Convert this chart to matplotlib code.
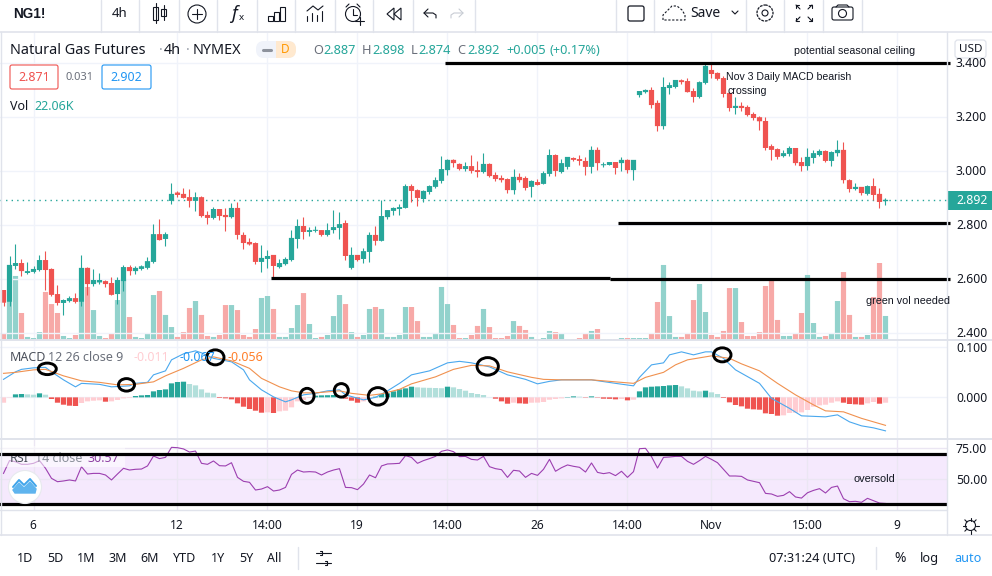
import numpy as np
import matplotlib
matplotlib.use('Agg')
import matplotlib.pyplot as plt
from matplotlib.patches import Ellipse, Rectangle, FancyBboxPatch, Circle, Polygon

W, H = 992, 576
UP, DOWN = '#26a69a', '#ef5350'
UI_TEXT = '#131722'
GRID = '#f0f3fa'
BORDER = '#e0e3eb'
BAR_W = 5.2 / 6
plt.rcParams['font.family'] = ['Noto Sans', 'DejaVu Sans']

# candles, one per 4h bar
open_ = [2.558,2.514,2.647,2.658,2.621,2.625,2.632,2.669,2.636,2.543,
         2.510,2.517,2.528,2.514,2.640,2.580,2.586,2.591,2.584,2.543,
         2.591,2.643,2.628,2.636,2.640,2.662,2.765,2.747,2.888,2.919,
         2.914,2.902,2.888,2.902,2.836,2.825,2.858,2.836,2.828,2.862,
         2.762,2.736,2.732,2.662,2.673,2.688,2.643,2.654,2.669,2.747,
         2.795,2.773,2.777,2.780,2.762,2.780,2.788,2.806,2.640,2.688,
         2.673,2.699,2.762,2.740,2.828,2.851,2.858,2.862,2.943,2.928,
         2.895,2.921,2.940,2.962,3.002,3.040,3.025,3.006,3.017,3.002,
         2.995,3.025,2.984,2.973,2.969,2.928,2.977,2.973,2.940,2.958,
         2.951,2.988,3.058,2.995,3.014,3.047,3.043,3.036,3.014,3.077,
         3.020,3.021,3.032,3.028,3.040,3.002,3.280,3.291,3.299,3.251,
         3.165,3.306,3.310,3.335,3.332,3.295,3.273,3.325,3.373,3.362,
         3.343,3.288,3.232,3.240,3.236,3.210,3.198,3.184,3.091,3.080,
         3.054,3.062,3.084,3.032,3.017,3.047,3.058,3.073,3.036,3.065,
         3.077,2.965,2.932,2.940,2.914,2.943,2.914,2.887]
high = [2.558,2.684,2.728,2.672,2.662,2.647,2.688,2.702,2.640,2.577,
        2.525,2.536,2.547,2.688,2.644,2.636,2.620,2.595,2.606,2.606,
        2.651,2.651,2.647,2.651,2.681,2.802,2.821,2.773,2.954,2.925,
        2.936,2.932,2.921,2.906,2.851,2.865,2.858,2.862,2.880,2.884,
        2.773,2.751,2.736,2.725,2.706,2.688,2.673,2.680,2.780,2.821,
        2.828,2.791,2.795,2.780,2.806,2.854,2.847,2.817,2.717,2.688,
        2.714,2.773,2.795,2.891,2.854,2.865,2.877,2.951,2.951,2.932,
        2.928,2.947,2.977,3.054,3.043,3.043,3.028,3.032,3.058,3.036,
        3.065,3.028,2.995,2.984,2.973,3.006,2.991,2.980,2.965,2.969,
        2.999,3.080,3.062,3.043,3.051,3.051,3.058,3.051,3.091,3.088,
        3.032,3.032,3.032,3.051,3.043,3.040,3.295,3.302,3.310,3.262,
        3.347,3.328,3.336,3.340,3.343,3.306,3.332,3.395,3.395,3.365,
        3.351,3.291,3.273,3.254,3.243,3.217,3.202,3.199,3.099,3.084,
        3.077,3.091,3.084,3.051,3.084,3.077,3.080,3.077,3.073,3.114,
        3.106,2.969,2.954,2.940,2.947,2.973,2.936,2.898]
low = [2.499,2.499,2.636,2.610,2.619,2.621,2.628,2.558,2.536,2.502,
       2.465,2.514,2.511,2.499,2.540,2.573,2.580,2.569,2.538,2.506,
       2.554,2.614,2.617,2.632,2.636,2.658,2.743,2.721,2.877,2.902,
       2.899,2.865,2.851,2.828,2.802,2.821,2.817,2.777,2.825,2.747,
       2.710,2.725,2.654,2.625,2.640,2.606,2.640,2.651,2.665,2.714,
       2.747,2.758,2.773,2.758,2.758,2.769,2.747,2.669,2.636,2.665,
       2.658,2.662,2.725,2.740,2.821,2.836,2.836,2.862,2.884,2.869,
       2.884,2.914,2.936,2.954,2.984,3.014,3.002,2.999,2.991,2.977,
       2.991,2.977,2.962,2.958,2.917,2.914,2.958,2.928,2.902,2.947,
       2.951,2.980,2.980,2.991,3.006,3.036,3.021,2.984,2.991,3.002,
       3.014,3.021,2.988,2.999,2.991,2.965,3.273,3.288,3.232,3.147,
       3.154,3.284,3.306,3.321,3.291,3.254,3.269,3.321,3.343,3.336,
       3.273,3.221,3.210,3.221,3.202,3.188,3.151,3.077,3.040,3.043,
       3.051,3.054,3.021,2.999,3.002,3.028,3.054,3.032,3.017,3.054,
       2.954,2.921,2.928,2.910,2.910,2.891,2.862,2.874]
close = [2.511,2.651,2.658,2.628,2.628,2.636,2.669,2.632,2.540,2.510,
         2.521,2.528,2.514,2.640,2.580,2.595,2.595,2.580,2.540,2.595,
         2.643,2.628,2.640,2.646,2.665,2.765,2.743,2.765,2.914,2.910,
         2.899,2.888,2.902,2.832,2.825,2.858,2.832,2.828,2.862,2.762,
         2.732,2.727,2.662,2.677,2.684,2.647,2.658,2.673,2.751,2.795,
         2.773,2.780,2.780,2.762,2.780,2.791,2.802,2.684,2.688,2.669,
         2.702,2.762,2.740,2.832,2.854,2.862,2.865,2.943,2.925,2.899,
         2.925,2.943,2.965,3.006,3.040,3.028,3.006,3.017,2.999,2.995,
         3.025,2.980,2.969,2.965,2.928,2.977,2.965,2.936,2.962,2.947,
         2.991,3.058,2.999,3.028,3.051,3.040,3.036,3.014,3.077,3.028,
         3.022,3.032,3.010,3.040,3.002,3.040,3.295,3.299,3.243,3.165,
         3.310,3.317,3.336,3.328,3.291,3.273,3.328,3.388,3.358,3.340,
         3.284,3.232,3.240,3.232,3.206,3.195,3.183,3.084,3.077,3.051,
         3.065,3.084,3.028,3.017,3.051,3.065,3.073,3.036,3.069,3.077,
         2.965,2.932,2.940,2.917,2.943,2.910,2.884,2.892]
# volume in thousands
volume = [5.5,34.9,58.8,24.8,2.8,1.8,7.3,44.1,33,24.8,
          3.7,1.8,4.6,34.9,48.7,27.5,3.7,1.8,5.5,36.7,
          55.1,21.1,2.8,1.8,5.5,41.3,45,23,11.9,2.8,
          7.3,29.4,35.8,23,3.7,2.8,4.6,32.1,32.1,27.5,
          4.6,2.8,10.1,38.6,40.4,28.5,2.8,2.8,11,32.1,
          43.1,14.7,1.8,2.8,4.6,22,41.3,33,7.3,2.8,
          4.6,28.5,30.3,28.5,2.8,2.8,4.6,30.3,30.3,17.4,
          2.8,2.8,5.5,48.7,33,13.8,1.8,1.8,4.6,12.9,
          28.5,11.9,1.8,1.8,3.7,17.4,12.9,9.2,2.8,0.9,
          1.8,8.3,7.3,6.4,0.9,0.9,1.8,5.5,8.3,10.1,
          0.9,0.9,0.9,1.8,1.8,1.8,1.8,1.8,6.4,34.9,
          68.9,22,2.8,2.8,6.4,36.7,51.4,25.7,4.6,2.8,
          8.3,47.7,47.7,16.5,3.7,3.7,7.3,49.6,55.1,18.4,
          3.7,3.7,6.4,24.8,59.7,15.6,2.8,3.7,5.5,35.8,
          62.4,23,2.8,2.8,4.6,39.5,70.7,22.06]
macd_hist = [-.0107,-.0007,.006,.0067,.006,.0053,.008,.0053,-.0033,-.0107,
             -.0147,-.0167,-.0173,-.0113,-.008,-.0067,-.006,-.0087,-.008,-.0053,
             -.002,-.0013,.0027,.004,.0047,.012,.0147,.016,.028,.0307,
             .0313,.0267,.024,.016,.0093,.008,-.0013,-.002,-.004,-.012,
             -.0187,-.0233,-.0267,-.0307,-.03,-.0313,-.028,-.0267,-.02,-.008,
             -.0053,-.0013,.0033,.004,.0043,.0047,.0033,-.0027,-.0067,-.0107,
             -.008,-.002,.0013,.0067,.008,.012,.016,.018,.0213,.02,
             .0193,.019,.0187,.0183,.0213,.02,.0167,.0133,.0087,.0067,
             .0047,.0003,-.0027,-.008,-.0127,-.0107,-.012,-.0127,-.0107,-.0105,
             -.0093,-.0047,-.0033,-.002,.0007,.002,.0013,-.0007,.002,-.0007,
             -.0027,-.003,-.004,-.0033,-.006,-.0047,.012,.02,.0213,.022,
             .0227,.024,.0247,.022,.018,.0133,.012,.0133,.01,.0067,
             -.0013,-.01,-.0153,-.018,-.0227,-.024,-.0247,-.032,-.0333,-.0367,
             -.036,-.0313,-.0307,-.03,-.0253,-.0187,-.016,-.0147,-.0107,-.008,
             -.0107,-.0133,-.014,-.0147,-.012,-.0093,-.0127,-.0107]
macd_bars = [0,2,3,5,7,8,10,12,13,16,18,21,22,24,25,27,28,30,32,33,35,38,40,41,43,45,47,48,50,52,54,
             56,57,60,62,64,66,68,71,74,76,78,81,84,87,89,91,93,98,102,105,106,108,110,
             111,113,115,117,118,120,122,126,128,131,133,137,139,141,143,145,147]
macd_line = [.036,.051,.056,.059,.060,.051,.035,.021,.028,.026,.021,.023,.028,.030,.045,.053,.075,.087,.093,.089,.078,.071,.055,.035,.015,.001,-.009,-.005,.005,.008,.013,
             .015,.005,-.005,0,.013,.028,.045,.053,.069,.072,.069,.061,.045,.036,.027,.032,.035,.035,.028,.023,.040,.065,.069,
             .085,.091,.085,.091,.091,.078,.055,.028,-.002,-.022,-.037,-.039,-.035,-.049,-.057,-.061,-.067]
signal_bars = [0,2,5,7,10,13,16,19,22,25,27,30,33,35,38,41,43,46,48,50,52,
               54,56,58,61,63,66,68,72,75,78,81,84,88,90,93,98,102,105,107,110,
               112,114,116,118,121,123,126,129,132,135,137,140,143,147]
signal_line = [.048,.050,.055,.056,.043,.033,.030,.025,.026,.031,.043,.058,.075,.081,.073,.058,.038,.021,.013,.009,.009,
               .011,.013,.008,.004,.007,.016,.027,.041,.056,.064,.063,.051,.040,.036,.035,.035,.031,.028,.040,.050,
               .065,.075,.079,.083,.078,.067,.053,.028,.005,-.015,-.027,-.029,-.042,-.056]
rsi = [54.8,65.1,64.2,62.1,62.1,62.9,65.1,58.9,50.8,48.1,48.7,49.5,48.7,60.2,54.3,54.8,54.8,53.5,49.5,54.3,
       58.9,57.5,58.1,58.3,60.8,68.8,66.7,67.7,75.8,75.5,74.5,72,72.8,62.9,62.1,64.8,61,60.8,63.4,51.6,
       48.4,47.6,41.4,42.2,44.1,40.6,41.4,43.5,54,57.5,55.9,56.2,55.9,53.5,55.9,
       57.5,58.6,43.5,43.3,41.7,46.2,53.5,51.3,60.8,62.4,62.6,62.9,69.1,67.7,62.9,65.1,66.7,68.5,72.6,73.7,
       72.3,68.3,68.5,66.1,65.6,68.5,60.2,58.6,57.8,51.6,57.3,56.7,51.6,54.8,53.2,58.1,66.1,56.5,59.4,61.6,
       60.5,59.7,55.9,63.2,55.6,54.6,55.4,53,56.5,51.6,56.2,74.7,75,68.3,59.1,
       67.7,68,68.5,68.5,64.5,62.1,65.1,68.5,66.1,63.4,58.1,52.7,52.7,52.4,49.5,48.4,47.3,38.7,38.2,36.3,
       37.1,40.1,35.8,34.9,39.2,41.1,42.5,39,43.5,44.6,34.4,32,32.3,31.5,34.7,32.8,30.9,30.57]

# hand drawn things on the chart: start bar, end bar, level
price_levels = [(73.6, 157.75, 3.399), (102.4, 157.75, 2.805), (44.6, 101.1, 2.601), (101.1, 157.75, 2.598)]
rsi_levels = [70.2, 29.8]
# bar, value, width in bars, height in macd units
macd_circles = [(7.3, .057, 3.0, .023), (20.5, .025, 2.67, .025), (35.3, .080, 2.9, .03),
                (50.6, .003, 2.33, .03), (56.3, .014, 2.33, .027), (62.4, .002, 3.2, .035),
                (80.7, .062, 3.55, .035), (119.8, .085, 2.9, .028)]

price_ticks = [3.4, 3.2, 3.0, 2.8, 2.6, 2.4]
macd_ticks = [0.1, 0.0]
rsi_ticks = [75, 50]
time_bars = [5, 29, 44, 59, 74, 89, 104, 118, 134, 149]
time_labels = ['6', '12', '14:00', '19', '14:00', '26', '14:00', 'Nov', '15:00', '9']
range_labels = ['1D', '5D', '1M', '3M', '6M', 'YTD', '1Y', '5Y', 'All']
range_x = [25, 55, 86, 118, 150, 185, 218, 246, 274]


def pane(y0, y1):
    ax = fig.add_axes([0, 1 - y1 / H, 947 / W, (y1 - y0) / H])
    ax.set_xlim(-3.5 / 6, 943.5 / 6)
    ax.set_xticks([])
    ax.set_yticks([])
    for s in ax.spines.values():
        s.set_visible(False)
    ax.patch.set_alpha(0)
    return ax


fig = plt.figure(figsize=(W / 100, H / 100), dpi=100, facecolor='white')
x = np.arange(len(close))
up = np.array(close) >= np.array(open_)

# volume sits in the price pane, so it gets its own scale
ax_vol = pane(33, 340)
ax_vol.set_ylim(0, 307 / 1.089)
ax_vol.bar(x, volume, width=BAR_W, color=np.where(up, '#92d2cc', '#f7a9a7'), linewidth=0, zorder=2, snap=False)
for b in time_bars:
    ax_vol.axvline(b, color=GRID, lw=1, zorder=1)

ax = pane(33, 340)
ax.set_ylim(3 - 169.33 / 270, 3 + 137.67 / 270)
for p in price_ticks:
    ax.axhline(p, color=GRID, lw=1, zorder=1)
ax.axhline(close[-1], color=UP, lw=1, ls=(0, (1, 3)), zorder=3)
ax.vlines(x, low, high, color=np.where(up, UP, DOWN), lw=0.8, zorder=4)
body_h = np.maximum(np.abs(np.array(close) - np.array(open_)), 0.004)
ax.bar(x, body_h, bottom=np.minimum(open_, close), width=BAR_W, color=np.where(up, UP, DOWN), linewidth=0, zorder=5, snap=False)
for x0, x1, lvl in price_levels:
    ax.plot([x0, x1], [lvl, lvl], color='black', lw=2.3, solid_capstyle='butt', zorder=6, clip_on=False)

ax_macd = pane(341, 439)
ax_macd.set_ylim(-.0833, .1127)
for p in macd_ticks:
    ax_macd.axhline(p, color=GRID, lw=1, zorder=1)
for b in time_bars:
    ax_macd.axvline(b, color=GRID, lw=1, zorder=1)
hist_colors = []
for i, v in enumerate(macd_hist):
    rising = i == 0 or v >= macd_hist[i - 1]
    if v >= 0:
        hist_colors.append('#26a69a' if rising else '#b2dfdb')
    else:
        hist_colors.append('#ffcdd2' if rising else '#ef5350')
ax_macd.bar(x, macd_hist, width=BAR_W, color=hist_colors, linewidth=0, zorder=2, snap=False)
ax_macd.plot(macd_bars, macd_line, color='#4aa8ee', lw=0.8, zorder=3)
ax_macd.plot(signal_bars, signal_line, color='#f0914f', lw=0.8, zorder=3)
for cx, cy, cw, ch in macd_circles:
    ax_macd.add_patch(Ellipse((cx, cy), cw, ch, fill=False, ec='black', lw=2.1, zorder=5, clip_on=False))

ax_rsi = pane(440, 510)
ax_rsi.set_ylim(25.3, 81.7)
ax_rsi.axhspan(30, 70, color='#f5e9fd', lw=0, zorder=0)
for p in rsi_ticks:
    ax_rsi.axhline(p, color='#ebe6f3', lw=1, zorder=1)
for b in time_bars:
    ax_rsi.axvline(b, color='#ebe6f3', lw=1, zorder=1)
ax_rsi.plot(x, rsi, color='#9c3fb0', lw=0.8, zorder=3)
# faded legend behind the hand drawn line
ax_rsi.add_patch(Rectangle((0, 0.614), 125 / 947, 0.3, transform=ax_rsi.transAxes, fc='white', ec='none', alpha=0.55, zorder=3.4))
for leg_x, leg_s, leg_c in [(10, 'RSI', '#4a4f5a'), (35, '14 close', '#8a8f9a'), (88, '30.57', '#8e3fa3')]:
    ax_rsi.text(leg_x / 947, 0.74, leg_s, transform=ax_rsi.transAxes, fontsize=9, color=leg_c, va='center', zorder=3.6)
for lvl in rsi_levels:
    ax_rsi.axhline(lvl, color='black', lw=2.3, zorder=4)

# everything around the chart is laid out in screen pixels
ui = fig.add_axes([0, 0, 1, 1], zorder=10)
ui.set_xlim(0, W)
ui.set_ylim(H, 0)
ui.axis('off')
ui.patch.set_alpha(0)


def t(px, py, s, size=9, color=UI_TEXT, ha='left', **kw):
    ui.text(px, py + 1, s, fontsize=size, color=color, ha=ha, va='center', **kw)


def ln(xs, ys, color=UI_TEXT, lw=0.8):
    ui.plot(xs, ys, color=color, lw=lw, solid_capstyle='round')


# frame lines
ln([0, W], [32, 32], BORDER, 1.2)
ln([0, W], [535, 535], BORDER, 1.2)
ln([0, 947], [340, 340], BORDER, 1.4)
ln([0, 947], [439, 439], BORDER, 1.4)
ln([0, 947], [510, 510], BORDER, 1.0)
ln([947, W], [340, 340], BORDER, 1.4)
ln([947, W], [439, 439], BORDER, 1.4)
ln([947, 947], [32, 535], BORDER, 1.0)
ln([0.5, 0.5], [32, 535], BORDER, 1.0)
for dx in [101, 139, 179, 217, 257, 295, 335, 373, 413, 475, 616, 654, 746, 784, 823, 862]:
    ln([dx, dx], [0, 32], BORDER, 1.0)
ln([298, 298], [547, 569], BORDER, 1.0)
ln([876, 876], [547, 569], BORDER, 1.0)

# top toolbar
t(13, 12.5, 'NG1!', 9.8, weight='bold', family=['Liberation Sans', 'DejaVu Sans'])
t(120, 12.5, '4h', 9.5, ha='center')
# candles icon
ui.add_patch(Rectangle((153, 7), 5, 13, fill=False, ec=UI_TEXT, lw=0.8))
ln([155.5, 155.5], [3, 23])
ui.add_patch(Rectangle((161, 9), 5, 7, fill=False, ec=UI_TEXT, lw=0.8))
ln([163.5, 163.5], [5, 20])
# add indicator
ui.add_patch(Circle((197, 14), 9, fill=False, ec=UI_TEXT, lw=0.8))
ln([192, 202], [14, 14])
ln([197, 197], [9, 19])
t(234, 13, 'f', 13, style='italic', ha='center')
t(241, 17, 'x', 7, ha='center')
# bars
for bx, by, bh in [(268, 16, 5), (274, 12, 9), (280, 7, 14)]:
    ui.add_patch(Rectangle((bx, by), 5, bh, fill=False, ec=UI_TEXT, lw=0.8))
# indicator template
ln([307, 313, 318, 323], [11, 6, 10, 6])
for bx, bh in [(307, 5), (312, 8), (317, 6), (322, 10)]:
    ln([bx, bx], [21, 21 - bh])
# alarm
ui.add_patch(Circle((353, 14), 7.5, fill=False, ec=UI_TEXT, lw=0.8))
ln([353, 353, 357], [9, 15, 15])
ln([346, 349], [7, 4])
ln([360, 357], [7, 4])
ln([355, 364], [21, 21])
ln([359.5, 359.5], [16.5, 25])
# rewind
ui.add_patch(Polygon([[394, 8], [387, 14], [394, 20]], fill=False, ec=UI_TEXT, lw=0.8))
ui.add_patch(Polygon([[401, 8], [394, 14], [401, 20]], fill=False, ec=UI_TEXT, lw=0.8))
# undo, redo
ln([428, 424, 428], [9, 13, 17])
ln([424, 433, 436, 436], [13, 13, 15, 18])
ln([459, 463, 459], [9, 13, 17], '#c8ccd4')
ln([463, 454, 451, 451], [13, 13, 15, 18], '#c8ccd4')
# layout square
ui.add_patch(FancyBboxPatch((628, 6), 16, 15, boxstyle='round,pad=0,rounding_size=2', fill=False, ec=UI_TEXT, lw=0.9))
# cloud
cx = np.array([663, 663, 667, 672, 677, 682, 685, 685, 663])
cy = np.array([20, 15, 11, 6, 6, 10, 15, 20, 20])
ui.plot(cx, cy, color=UI_TEXT, lw=0.8, ls=(0, (2, 1.5)))
t(690, 12.5, 'Save', 10)
ln([732, 735, 738], [11, 14, 11])
# settings gear
ui.add_patch(Circle((765, 13), 3, fill=False, ec=UI_TEXT, lw=0.8))
ui.add_patch(Circle((765, 13), 8, fill=False, ec=UI_TEXT, lw=0.9, ls=(0, (2.2, 0.8))))
# fullscreen arrows
for sx, sy in [(1, 1), (-1, 1), (1, -1), (-1, -1)]:
    ln([804 + sx * 4, 804 + sx * 8], [13 + sy * 4, 13 + sy * 8])
    ln([804 + sx * 5, 804 + sx * 8, 804 + sx * 8], [13 + sy * 8, 13 + sy * 8, 13 + sy * 5])
# camera
ui.add_patch(FancyBboxPatch((832, 7), 21, 13, boxstyle='round,pad=0,rounding_size=2', fill=False, ec=UI_TEXT, lw=0.8))
ui.add_patch(Circle((842.5, 13.5), 4, fill=False, ec=UI_TEXT, lw=0.8))
ln([836, 838, 847, 849], [7, 5, 5, 7])

# price legend
t(10, 49.5, 'Natural Gas Futures', 10.4)
t(159, 49.5, '·', 10.4, color='#9aa0ab')
t(164, 49.5, '4h', 10.4)
t(186, 49.5, '·', 10.4, color='#9aa0ab')
t(193, 49.5, 'NYMEX', 10.4)
ui.add_patch(FancyBboxPatch((256, 41), 40, 17, boxstyle='round,pad=0,rounding_size=8', fc='#f0f3fa', ec='none'))
ui.add_patch(FancyBboxPatch((276, 41), 20, 17, boxstyle='round,pad=0,rounding_size=8', fc='#ffe9cf', ec='none'))
ui.add_patch(Rectangle((276, 41), 8, 17, fc='#ffe9cf', ec='none'))
ln([263, 271], [49.5, 49.5], '#8d929c', 2.2)
t(285, 48.5, 'D', 8.5, color='#ff9800', ha='center', weight='bold')
for px, letter, val_x, val in [(313, 'O', 323, '2.887'), (362, 'H', 372, '2.898'),
                               (411, 'L', 418, '2.874'), (457, 'C', 467, '2.892')]:
    t(px, 49.5, letter, 9.2, color='#6a6f7a')
    t(val_x, 49.5, val, 9.2, color=UP)
t(506, 49.5, '+0.005', 9.2, color=UP)
t(550, 49.5, '(+0.17%)', 9.2, color=UP)

ui.add_patch(FancyBboxPatch((10, 65), 48, 24, boxstyle='round,pad=0,rounding_size=2', fc='white', ec=DOWN, lw=0.8))
t(34, 76.5, '2.871', 9, color=DOWN, ha='center')
t(66, 76.5, '0.031', 8, color='#6a6f7a')
ui.add_patch(FancyBboxPatch((102, 65), 49, 24, boxstyle='round,pad=0,rounding_size=2', fc='white', ec='#2196f3', lw=0.8))
t(126.5, 76.5, '2.902', 9, color='#2196f3', ha='center')
t(10, 105, 'Vol', 9)
t(34, 105, '22.06K', 9, color=UP)

# annotations typed on the chart
note = ['Liberation Sans', 'DejaVu Sans']
t(794, 49.5, 'potential seasonal ceiling', 7.65, family=note)
t(726, 75.5, 'Nov 3 Daily MACD bearish', 7.6, family=note)
t(727, 89.5, 'crossing', 7.6, family=note)
t(866, 300.5, 'green vol needed', 7.75, family=note)
t(853, 477.5, 'oversold', 7.9, family=note)

# price scale
ui.add_patch(FancyBboxPatch((955, 40), 31, 18, boxstyle='round,pad=0,rounding_size=3', fc='white', ec=BORDER, lw=0.9))
t(970.5, 48, 'USD', 8.4, ha='center')
for p in price_ticks:
    t(956, 170.67 + (3 - p) * 270, '%.3f' % p, 8.8)
for p in macd_ticks:
    t(956, 397.33 - p * 500, '%.3f' % p, 8.8)
for p in rsi_ticks:
    t(956, 479.33 - (p - 50) * 1.24, '%.2f' % p, 8.8)
ui.add_patch(Rectangle((947, 191), 45, 19, fc=UP, ec='none'))
t(956, 199.5, '%.3f' % close[-1], 8.8, color='white')

# macd legend
t(10, 356.5, 'MACD', 9, color='#4a4f5a')
t(48, 356.5, '12 26 close 9', 9, color='#6a6f7a')
t(133, 356.5, '-0.011', 9, color='#ffcdd2')
t(179, 356.5, '-0.067', 9, color='#2196f3')
t(227, 356.5, '-0.056', 9, color='#ff7f2a')

# logo bubble
ui.add_patch(Circle((25, 487), 16.5, fc='white', ec='#e7e9ee', lw=0.8))
ui.add_patch(Polygon([[13, 490], [19, 483], [24, 488], [30, 482], [36, 489], [35, 493], [15, 493]], fc='#5fb4ee', ec='#5fb4ee', lw=1))
ln([13, 19, 24, 30, 36], [487, 480, 485, 479, 486], '#3fa4ea', 1.4)

# time scale
for b, s in zip(time_bars, time_labels):
    t(3 + 6 * b, 524.5, s, 8.6, ha='center', weight='medium' if s == 'Nov' else 'normal')
ui.add_patch(Circle((970.5, 525.5), 5, fill=False, ec=UI_TEXT, lw=0.8))
for a in np.arange(0, 360, 45):
    ca, sa = np.cos(np.radians(a)), np.sin(np.radians(a))
    ln([970.5 + 5 * ca, 970.5 + 8 * ca], [525.5 + 5 * sa, 525.5 + 8 * sa])

# bottom bar
for s, px in zip(range_labels, range_x):
    t(px, 557.5, s, 9, ha='center')
ln([316, 331], [553, 553])
ln([316, 331], [563, 563])
ln([320, 322, 322, 320], [551, 551, 555, 555])
ln([325, 327, 327, 325], [561, 561, 565, 565])
t(769, 557.5, '07:31:24 (UTC)', 9.2)
t(900, 557.5, '%', 10, ha='center')
t(929, 557.5, 'log', 9.2, ha='center')
t(968, 557.5, 'auto', 9.2, color='#2196f3', ha='center')

fig.savefig('out.png', dpi=100)
